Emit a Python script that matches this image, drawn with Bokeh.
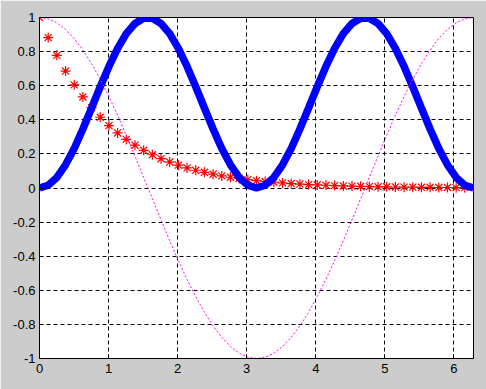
from bokeh.plotting import figure
from bokeh.models import FixedTicker, Range1d
from bokeh.embed import file_html
from bokeh.resources import INLINE

# sample positions (0 .. 2*pi, 51 samples)
x_vals = [0.0, 0.1257, 0.2513, 0.3770, 0.5027, 0.6283, 0.7540, 0.8796, 1.0053, 1.1310,
          1.2566, 1.3823, 1.5080, 1.6336, 1.7593, 1.8850, 2.0106, 2.1363, 2.2619, 2.3876,
          2.5133, 2.6389, 2.7646, 2.8903, 3.0159, 3.1416, 3.2673, 3.3929, 3.5186, 3.6442,
          3.7699, 3.8956, 4.0212, 4.1469, 4.2726, 4.3982, 4.5239, 4.6496, 4.7752, 4.9009,
          5.0265, 5.1522, 5.2779, 5.4035, 5.5292, 5.6549, 5.7805, 5.9062, 6.0319, 6.1575,
          6.2832]

# thick blue curve
blue_vals = [0.0, 0.016, 0.062, 0.136, 0.232, 0.346, 0.469, 0.594, 0.713, 0.819,
             0.905, 0.965, 0.996, 0.996, 0.965, 0.905, 0.819, 0.713, 0.594, 0.469,
             0.346, 0.232, 0.136, 0.062, 0.016, 0.0, 0.016, 0.062, 0.136, 0.232,
             0.346, 0.469, 0.594, 0.713, 0.819, 0.905, 0.965, 0.996, 0.996, 0.965,
             0.905, 0.819, 0.713, 0.594, 0.469, 0.346, 0.232, 0.136, 0.062, 0.016,
             0.0]

# red star markers
red_vals = [1.0, 0.882, 0.778, 0.686, 0.605, 0.534, 0.471, 0.415, 0.366, 0.323,
            0.285, 0.251, 0.221, 0.195, 0.172, 0.152, 0.134, 0.118, 0.104, 0.092,
            0.081, 0.071, 0.063, 0.056, 0.049, 0.043, 0.038, 0.034, 0.030, 0.026,
            0.023, 0.020, 0.018, 0.016, 0.014, 0.012, 0.011, 0.010, 0.008, 0.007,
            0.007, 0.006, 0.005, 0.005, 0.004, 0.004, 0.003, 0.003, 0.002, 0.002,
            0.002]

# magenta dotted curve
magenta_vals = [1.0, 0.992, 0.969, 0.930, 0.876, 0.809, 0.729, 0.637, 0.536, 0.426,
                0.309, 0.187, 0.063, -0.063, -0.187, -0.309, -0.426, -0.536, -0.637, -0.729,
                -0.809, -0.876, -0.930, -0.969, -0.992, -1.0, -0.992, -0.969, -0.930, -0.876,
                -0.809, -0.729, -0.637, -0.536, -0.426, -0.309, -0.187, -0.063, 0.063, 0.187,
                0.309, 0.426, 0.536, 0.637, 0.729, 0.809, 0.876, 0.930, 0.969, 0.992,
                1.0]

x_ticks = [0, 1, 2, 3, 4, 5, 6]
x_labels = ["0", "1", "2", "3", "4", "5", "6"]
y_ticks = [-1, -0.8, -0.6, -0.4, -0.2, 0, 0.2, 0.4, 0.6, 0.8, 1]
y_labels = ["-1", "-0.8", "-0.6", "-0.4", "-0.2", "0", "0.2", "0.4", "0.6", "0.8", "1"]

BG = "#cccccc"

p = figure(width=486, height=389, output_backend="svg", toolbar_location=None,
           x_range=Range1d(0, 6.2832), y_range=Range1d(-1, 1),
           min_border_left=39, min_border_right=13, min_border_top=17, min_border_bottom=31)
p.background_fill_color = "white"
p.border_fill_color = BG
p.outline_line_color = "black"
p.outline_line_width = 1

p.scatter(x_vals, red_vals, marker="asterisk", size=10, line_color="red", line_width=1.2)
p.line(x_vals, blue_vals, line_color="blue", line_width=7.5)
p.line(x_vals, magenta_vals, line_color="magenta", line_width=1, line_dash="2 2")

p.xaxis.ticker = FixedTicker(ticks=x_ticks)
p.yaxis.ticker = FixedTicker(ticks=y_ticks)
p.xaxis.major_label_overrides = {t: l for t, l in zip(x_ticks, x_labels)}
p.yaxis.major_label_overrides = {t: l for t, l in zip(y_ticks, y_labels)}

for ax in (p.xaxis, p.yaxis):
    ax.axis_line_color = "black"
    ax.major_tick_line_color = "black"
    ax.major_tick_in = 4
    ax.major_tick_out = 0
    ax.minor_tick_line_color = None
    ax.major_label_text_font = "Liberation Sans"
    ax.major_label_text_font_size = "13px"
    ax.major_label_text_color = "black"
p.xaxis.major_label_standoff = 5
p.yaxis.major_label_standoff = 4

for g in (p.xgrid, p.ygrid):
    g.grid_line_color = "black"
    g.grid_line_dash = "4 3"
    g.grid_line_width = 1
    g.grid_line_alpha = 1.0

html = file_html(p, INLINE)
html = html.replace("<body>", '<body style="background-color:%s;">' % BG, 1)
open("out.html", "w").write(html)
